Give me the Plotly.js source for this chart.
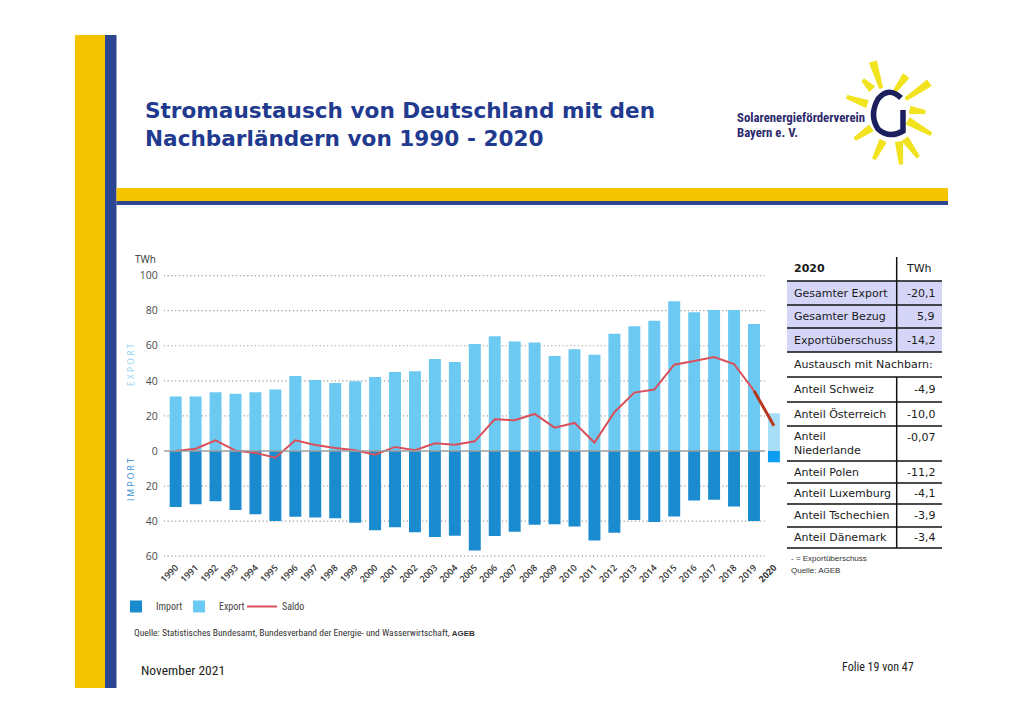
<!DOCTYPE html>
<html>
<head>
<meta charset="utf-8">
<script src="https://cdn.plot.ly/plotly-3.0.1.min.js"></script>
<style>html,body{margin:0;padding:0;background:#fff;}#chart{width:1024px;height:724px;}</style>
</head>
<body>
<div id="chart"></div>
<script>
// ---------- data ----------
const years = ['1990','1991','1992','1993','1994','1995','1996','1997','1998','1999','2000','2001','2002','2003','2004','2005','2006','2007','2008','2009','2010','2011','2012','2013','2014','2015','2016','2017','2018','2019','2020'];
const exportVals = [31.0,31.0,33.5,32.7,33.5,35.0,42.8,40.5,38.8,39.7,42.2,45.1,45.4,52.5,50.7,61.0,65.4,62.4,61.8,54.2,58.0,54.9,66.9,71.1,74.3,85.4,79.1,80.4,80.4,72.4,21.5];
const importVals = [31.9,30.4,28.7,33.7,36.1,39.9,37.5,38.0,38.4,40.9,45.2,43.5,46.4,49.0,48.3,56.8,48.5,46.0,42.0,41.8,43.0,51.1,46.6,39.4,40.5,37.3,28.3,27.8,31.7,39.9,6.5];
const saldoVals  = [0.0,1.3,6.1,0.2,-1.1,-3.8,6.1,3.4,1.7,0.4,-2.1,2.3,0.4,4.4,3.6,5.5,18.1,17.5,21.1,13.3,16.0,4.8,22.1,33.3,35.0,49.2,51.3,53.6,49.6,34.4,14.4];
const yTickVals = [-60,-40,-20,0,20,40,60,80,100];
const yTickText = ['60','40','20','0','20','40','60','80','100'];
const xTickText = years.map(y => y === '2020' ? '<b>2020</b>' : y);

const tableHeader = ['2020','TWh'];
const tableLabels = ['Gesamter Export','Gesamter Bezug','Exportüberschuss','Austausch mit Nachbarn:','Anteil Schweiz','Anteil Österreich','Anteil<br>Niederlande','Anteil Polen','Anteil Luxemburg','Anteil Tschechien','Anteil Dänemark'];
const tableValues = ['-20,1','5,9','-14,2','','-4,9','-10,0','-0,07','-11,2','-4,1','-3,9','-3,4'];

// ---------- layout helpers ----------
const W = 1024, H = 724;
const X = px => px / W;
const Y = py => 1 - py / H;
const last = years.length - 1;

const cExport = years.map((y,i) => i === last ? '#a8ddf8' : '#6ccaf2');
const cImport = years.map((y,i) => i === last ? '#0c9cf2' : '#1b8bcf');

const traces = [
  {type:'bar', name:'Import', x: years, y: importVals.map(v => -v),
   marker:{color:cImport}, hoverinfo:'skip'},
  {type:'bar', name:'Export', x: years, y: exportVals,
   marker:{color:cExport}, hoverinfo:'skip'},
  {type:'scatter', mode:'lines', name:'Saldo', x: years.slice(0,last), y: saldoVals.slice(0,last),
   line:{color:'#d9505b', width:2}, hoverinfo:'skip'},
  {type:'scatter', mode:'lines', name:'Saldo 2020', showlegend:false, x: years.slice(last-1), y: saldoVals.slice(last-1),
   line:{color:'#b8361c', width:3}, hoverinfo:'skip'}
];

const shapes = [];
const ann = [];
// slide decoration
shapes.push({type:'rect', xref:'paper', yref:'paper', x0:X(75), x1:X(105), y0:Y(688), y1:Y(35), fillcolor:'#f5c400', line:{width:0}, layer:'below'});
shapes.push({type:'rect', xref:'paper', yref:'paper', x0:X(105), x1:X(116.5), y0:Y(688), y1:Y(35), fillcolor:'#2b4590', line:{width:0}, layer:'below'});
shapes.push({type:'rect', xref:'paper', yref:'paper', x0:X(116.5), x1:X(948), y0:Y(201), y1:Y(188), fillcolor:'#f5c400', line:{width:0}, layer:'below'});
shapes.push({type:'rect', xref:'paper', yref:'paper', x0:X(116.5), x1:X(948), y0:Y(205), y1:Y(201), fillcolor:'#2b4590', line:{width:0}, layer:'below'});

// gridlines (dotted) and zero line, limited to the 1990-2019 span
yTickVals.forEach(v => {
  if (v === 0) return;
  shapes.push({type:'line', xref:'x', yref:'y', x0:-0.6, x1:29.55, y0:v, y1:v,
    line:{color:'#9a9a9a', width:1.2, dash:'1.2px,2.6px'}, layer:'below'});
});
shapes.push({type:'line', xref:'x', yref:'y', x0:-0.6, x1:29.55, y0:0, y1:0,
  line:{color:'#9c9c9c', width:1.6}, layer:'above'});

// logo: sun rays (tapered)
const gp = (x,y) => X(x).toFixed(5) + ',' + Y(y).toFixed(5);
const rays = [[873,62,881,88],[906,76,895,91],[929,83,906,99],[910,110,925,112],[908,121,931,134],[905,139,918,157],[899,142,901,164],[883,141,874,159],[871,128,855,139],[867,104,847,97],[872,89,863,80]];
rays.forEach(r => {
  const dx = r[0]-r[2], dy = r[1]-r[3], L = Math.hypot(dx,dy);
  const nx = -dy/L, ny = dx/L, wo = 3.6, wi = 1.6;
  shapes.push({type:'path', xref:'paper', yref:'paper',
    path:'M' + gp(r[0]+nx*wo, r[1]+ny*wo) + ' L' + gp(r[0]-nx*wo, r[1]-ny*wo) + ' L' + gp(r[2]-nx*wi, r[3]-ny*wi) + ' L' + gp(r[2]+nx*wi, r[3]+ny*wi) + ' Z',
    fillcolor:'#f1e31e', line:{color:'#f1e31e', width:1}});
});
shapes.push({type:'path', xref:'paper', yref:'paper',
  path:'M' + gp(901,98) + ' Q' + gp(889,86) + ' ' + gp(878,99) + ' Q' + gp(869,115) + ' ' + gp(878,129) + ' Q' + gp(889,139) + ' ' + gp(903,131) + ' L' + gp(903,110),
  line:{color:'#1c1f5e', width:5.5}});

// table
const tL = 787, tR = 942, tDiv = 896.7;
const rowLines = [281,305,328,352,377,402,426,461,483,504,527,548];
shapes.push({type:'rect', xref:'paper', yref:'paper', x0:X(tL), x1:X(tR), y0:Y(352), y1:Y(281), fillcolor:'#d5d5f8', line:{width:0}});
rowLines.forEach(r => shapes.push({type:'line', xref:'paper', yref:'paper', x0:X(tL), x1:X(tR), y0:Y(r), y1:Y(r), line:{color:'#111', width:1.5}}));
shapes.push({type:'line', xref:'paper', yref:'paper', x0:X(tDiv), x1:X(tDiv), y0:Y(257), y1:Y(352), line:{color:'#111', width:1.5}});
shapes.push({type:'line', xref:'paper', yref:'paper', x0:X(tDiv), x1:X(tDiv), y0:Y(377), y1:Y(548), line:{color:'#111', width:1.5}});

const tFont = {family:'DejaVu Sans, Verdana, sans-serif', size:11, color:'#1a1a1a'};
ann.push({xref:'paper', yref:'paper', x:X(792), y:Y(268), xanchor:'left', yanchor:'middle', showarrow:false,
  text:'<b>' + tableHeader[0] + '</b>', font:tFont});
ann.push({xref:'paper', yref:'paper', x:X(919), y:Y(268), xanchor:'center', yanchor:'middle', showarrow:false,
  text:tableHeader[1], font:tFont});
for (let i = 0; i < tableLabels.length; i++) {
  const top = rowLines[i], bot = rowLines[i+1];
  const twoLine = tableLabels[i].indexOf('<br>') >= 0;
  const cy = (top + bot) / 2;
  ann.push({xref:'paper', yref:'paper', x:X(792), y:Y(cy), xanchor:'left', yanchor:'middle', showarrow:false,
    align:'left', text:tableLabels[i], font:tFont});
  if (tableValues[i] !== '') {
    ann.push({xref:'paper', yref:'paper', x:X(937), y:Y(twoLine ? top + 11 : cy), xanchor:'right', yanchor:'middle', showarrow:false,
      text:tableValues[i], font:tFont});
  }
}
const smallArial = {family:'Liberation Sans, Arial, sans-serif', size:8, color:'#333'};
ann.push({xref:'paper', yref:'paper', x:X(789), y:Y(558), xanchor:'left', yanchor:'middle', showarrow:false, text:'- = Exportüberschuss', font:smallArial});
ann.push({xref:'paper', yref:'paper', x:X(789), y:Y(570), xanchor:'left', yanchor:'middle', showarrow:false, text:'Quelle: AGEB', font:smallArial});

// titles and texts
const titleFont = {family:'DejaVu Sans, Verdana, sans-serif', size:21.6, color:'#1f3a8f', weight:700};
ann.push({xref:'paper', yref:'paper', x:X(143), y:Y(110), xanchor:'left', yanchor:'middle', showarrow:false,
  text:'<b>Stromaustausch von Deutschland mit den</b>', font:titleFont});
ann.push({xref:'paper', yref:'paper', x:X(143), y:Y(138), xanchor:'left', yanchor:'middle', showarrow:false,
  text:'<b>Nachbarländern von 1990 - 2020</b>', font:titleFont});
const logoFont = {family:'Liberation Sans Narrow, Roboto Condensed, Arial Narrow, sans-serif', size:12.8, color:'#2c2a6c'};
ann.push({xref:'paper', yref:'paper', x:X(735), y:Y(118), xanchor:'left', yanchor:'middle', showarrow:false, text:'<b>Solarenergieförderverein</b>', font:logoFont});
ann.push({xref:'paper', yref:'paper', x:X(735), y:Y(133), xanchor:'left', yanchor:'middle', showarrow:false, text:'<b>Bayern e. V.</b>', font:logoFont});

ann.push({xref:'paper', yref:'paper', x:X(145), y:Y(259), xanchor:'center', yanchor:'middle', showarrow:false,
  text:'TWh', font:{family:'Open Sans, sans-serif', size:10, color:'#333'}});
ann.push({xref:'paper', yref:'paper', x:X(130), y:Y(365), xanchor:'center', yanchor:'middle', showarrow:false, textangle:-90,
  text:'E X P O R T', font:{family:'Open Sans, sans-serif', size:8.5, color:'#8fd3f0'}});
ann.push({xref:'paper', yref:'paper', x:X(130), y:Y(480), xanchor:'center', yanchor:'middle', showarrow:false, textangle:-90,
  text:'I M P O R T', font:{family:'Open Sans, sans-serif', size:8.5, color:'#3290cf'}});

const narrow = 'Liberation Sans Narrow, Roboto Condensed, Arial Narrow, sans-serif';
ann.push({xref:'paper', yref:'paper', x:X(132), y:Y(632), xanchor:'left', yanchor:'middle', showarrow:false,
  text:'Quelle: Statistisches Bundesamt, Bundesverband der Energie- und Wasserwirtschaft, <span style="font-family:Liberation Sans, Arial;font-size:8px;font-weight:bold">AGEB</span>',
  font:{family:narrow, size:9.5, color:'#333'}});
ann.push({xref:'paper', yref:'paper', x:X(139), y:Y(670), xanchor:'left', yanchor:'middle', showarrow:false,
  text:'November 2021', font:{family:narrow, size:13.5, color:'#222'}});
ann.push({xref:'paper', yref:'paper', x:X(916), y:Y(667), xanchor:'right', yanchor:'middle', showarrow:false,
  text:'Folie 19 von 47', font:{family:narrow, size:12, color:'#222'}});

const layout = {
  width: W, height: H,
  margin:{l:0, r:0, t:0, b:0, pad:0},
  paper_bgcolor:'#ffffff', plot_bgcolor:'rgba(0,0,0,0)',
  barmode:'relative', bargap:0.4,
  showlegend:true,
  legend:{orientation:'h', x:X(116), y:Y(592), xanchor:'left', yanchor:'top',
    font:{family:narrow, size:10, color:'#444'}, entrywidth:18, entrywidthmode:'pixels',
    bgcolor:'rgba(0,0,0,0)', traceorder:'normal', itemwidth:30},
  xaxis:{domain:[X(163.7), X(782.9)], type:'category', range:[-0.6, 30.45],
    tickmode:'array', tickvals:years, ticktext:xTickText, tickangle:-45,
    tickfont:{family:'Open Sans, sans-serif', size:9, color:'#333', weight:600},
    showgrid:false, zeroline:false, showline:false, ticks:'', fixedrange:true},
  yaxis:{domain:[Y(559.7), Y(272.1)], range:[-62, 102],
    tickmode:'array', tickvals:yTickVals, ticktext:yTickText,
    tickfont:{family:'Open Sans, sans-serif', size:10.5, color:'#4a4a4a'},
    showgrid:false, zeroline:false, showline:false, ticks:'', ticklabelstandoff:5, fixedrange:true},
  shapes: shapes,
  annotations: ann
};

Plotly.newPlot('chart', traces, layout, {staticPlot:true, displayModeBar:false});
</script>
</body>
</html>
